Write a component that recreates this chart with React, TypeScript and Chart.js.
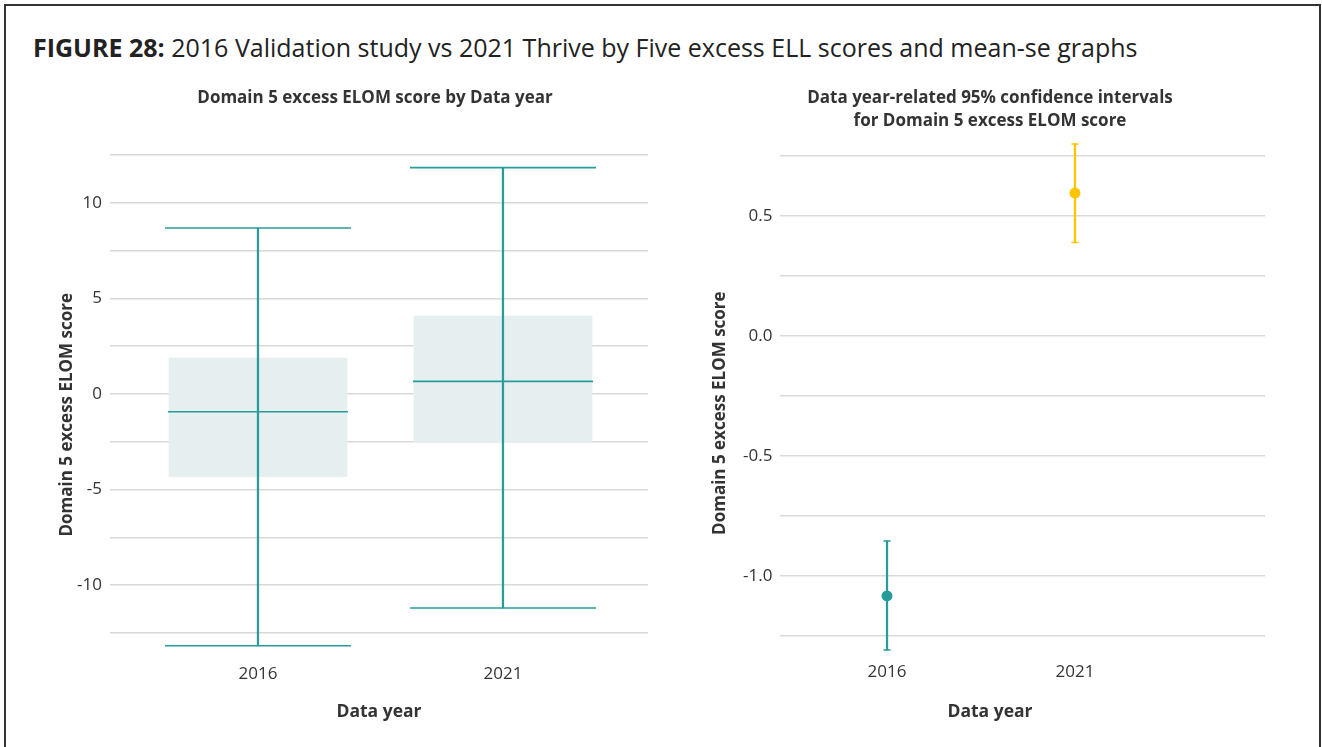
import React, { useEffect, useRef } from 'react';
import { Chart, registerables } from 'chart.js';

Chart.register(...registerables);

// ---------- data ----------
const years = ['2016', '2021'];

// box plot (left)
const boxWhiskerLow = [-13.18, -11.2];
const boxQ1 = [-4.33, -2.5];
const boxMedian = [-0.93, 0.66];
const boxQ3 = [1.88, 4.08];
const boxWhiskerHigh = [8.69, 11.85];
const boxYTicks = [-12.5, -10, -7.5, -5, -2.5, 0, 2.5, 5, 7.5, 10, 12.5];
const boxYTickLabels = ['', '-10', '', '-5', '', '0', '', '5', '', '10', ''];

// mean with 95% CI (right)
const ciMean = [-1.083, 0.595];
const ciLow = [-1.308, 0.389];
const ciHigh = [-0.854, 0.8];
const ciYTicks = [-1.25, -1, -0.75, -0.5, -0.25, 0, 0.25, 0.5, 0.75];
const ciYTickLabels = ['', '-1.0', '', '-0.5', '', '0.0', '', '0.5', ''];

// ---------- styles ----------
const FONT = "'Open Sans', 'Noto Sans', sans-serif";
const TEAL = '#279c9b';
const GOLD = '#fdc500';
const ciColors = [TEAL, GOLD];
const BOXFILL = '#e5eff0';
const GRID = '#d9d9d9';
const TXT = '#333333';

const sideTitle = {
  id: 'sideTitle',
  afterDraw(chart: any, _args: any, opts: any) {
    if (!opts || !opts.text) return;
    const ctx = chart.ctx;
    const ca = chart.chartArea;
    ctx.save();
    ctx.font = `bold ${opts.size}px ${FONT}`;
    ctx.fillStyle = TXT;
    ctx.textAlign = 'center';
    ctx.textBaseline = 'middle';
    ctx.translate(opts.x, (ca.top + ca.bottom) / 2 + opts.shift);
    ctx.rotate(-Math.PI / 2);
    ctx.fillText(opts.text, 0, 0);
    ctx.restore();
  },
};

// empty right-hand axis used only as a spacer so titles stay centred on the canvas
const spacerAxis = (w: number) => ({
  type: 'linear',
  position: 'right',
  display: true,
  grid: { display: false, drawTicks: false },
  border: { display: false },
  ticks: { display: false },
  afterFit: (s: any) => {
    s.width = w;
  },
});

function BoxChart() {
  const ref = useRef<HTMLCanvasElement>(null);
  useEffect(() => {
    const chart = new Chart(ref.current as HTMLCanvasElement, {
      type: 'bar',
      data: {
        datasets: [
          {
            type: 'scatter',
            data: years.map((_, i) => ({ x: i, y: boxMedian[i] })),
            pointStyle: 'line',
            pointRadius: 90,
            pointHoverRadius: 90,
            pointBorderColor: TEAL,
            pointBackgroundColor: TEAL,
            pointBorderWidth: 1.6,
            order: 1,
          } as any,
          {
            type: 'scatter',
            data: years.flatMap((_, i) => [
              { x: i, y: boxWhiskerLow[i] },
              { x: i, y: boxWhiskerHigh[i] },
            ]),
            pointStyle: 'line',
            pointRadius: 93,
            pointHoverRadius: 93,
            pointBorderColor: TEAL,
            pointBackgroundColor: TEAL,
            pointBorderWidth: 1.6,
            order: 1,
          } as any,
          {
            type: 'bar',
            data: years.map((_, i) => ({ x: i, y: [boxWhiskerLow[i], boxWhiskerHigh[i]] })),
            backgroundColor: TEAL,
            barThickness: 1.6,
            maxBarThickness: 1.6,
            grouped: false,
            order: 2,
          } as any,
          {
            type: 'bar',
            data: years.map((_, i) => ({ x: i, y: [boxQ1[i], boxQ3[i]] })),
            backgroundColor: BOXFILL,
            barThickness: 178,
            maxBarThickness: 178,
            grouped: false,
            order: 3,
          } as any,
        ],
      },
      options: {
        animation: false,
        responsive: false,
        events: [],
        layout: { padding: 0, autoPadding: false },
        plugins: {
          legend: { display: false },
          tooltip: { enabled: false },
          title: {
            display: true,
            text: 'Domain 5 excess ELOM score by Data year',
            color: TXT,
            font: { family: FONT, size: 17, weight: 'bold', lineHeight: 1.35 },
            padding: { top: 6.5, bottom: 40 },
          },
          sideTitle: { text: 'Domain 5 excess ELOM score', x: 17, size: 17, shift: 15 },
        } as any,
        scales: {
          x: {
            type: 'linear',
            min: -0.604,
            max: 1.592,
            offset: false,
            grid: { display: false, drawTicks: false },
            border: { display: false },
            afterBuildTicks: (s: any) => {
              s.ticks = years.map((_, i) => ({ value: i }));
            },
            afterFit: (s: any) => {
              s.height = 90;
            },
            ticks: {
              autoSkip: false,
              maxRotation: 0,
              padding: 13.8,
              color: TXT,
              font: { family: FONT, size: 17 },
              callback: (v: any) => years[v as number] ?? '',
            },
            title: {
              display: true,
              text: 'Data year',
              color: TXT,
              font: { family: FONT, size: 17.5, weight: 'bold' },
              padding: { top: 0, bottom: 17.5 },
            },
          },
          y: {
            type: 'linear',
            min: -13.4,
            max: 12.8,
            grid: { color: GRID, lineWidth: 1.5, drawTicks: false },
            border: { display: false },
            afterBuildTicks: (s: any) => {
              s.ticks = boxYTicks.map((v) => ({ value: v }));
            },
            afterFit: (s: any) => {
              s.width = 60;
            },
            ticks: {
              padding: 8,
              color: TXT,
              font: { family: FONT, size: 17 },
              callback: (_v: any, i: number) => boxYTickLabels[i],
            },
          },
          spacer: spacerAxis(52),
        },
      } as any,
      plugins: [sideTitle as any],
    });
    return () => chart.destroy();
  }, []);
  return <canvas ref={ref} width={650} height={660} />;
}

function CIChart() {
  const ref = useRef<HTMLCanvasElement>(null);
  useEffect(() => {
    const chart = new Chart(ref.current as HTMLCanvasElement, {
      type: 'bar',
      data: {
        datasets: [
          {
            type: 'scatter',
            data: years.map((_, i) => ({ x: i, y: ciMean[i] })),
            pointStyle: 'circle',
            pointRadius: 5.5,
            pointHoverRadius: 5.5,
            pointBackgroundColor: ciColors,
            pointBorderColor: ciColors,
            pointBorderWidth: 0,
            order: 1,
          } as any,
          {
            type: 'scatter',
            data: years.flatMap((_, i) => [
              { x: i, y: ciLow[i] },
              { x: i, y: ciHigh[i] },
            ]),
            pointStyle: 'line',
            pointRadius: 3.5,
            pointHoverRadius: 3.5,
            pointBorderColor: ciColors.flatMap((c) => [c, c]),
            pointBackgroundColor: ciColors.flatMap((c) => [c, c]),
            pointBorderWidth: 1.5,
            order: 2,
          } as any,
          {
            type: 'bar',
            data: years.map((_, i) => ({ x: i, y: [ciLow[i], ciHigh[i]] })),
            backgroundColor: ciColors,
            barThickness: 1.6,
            maxBarThickness: 1.6,
            grouped: false,
            order: 3,
          } as any,
        ],
      },
      options: {
        animation: false,
        responsive: false,
        events: [],
        layout: { padding: 0, autoPadding: false },
        plugins: {
          legend: { display: false },
          tooltip: { enabled: false },
          title: {
            display: true,
            text: ['Data year-related 95% confidence intervals', 'for Domain 5 excess ELOM score'],
            color: TXT,
            font: { family: FONT, size: 17, weight: 'bold', lineHeight: 1.35 },
            padding: { top: 6.5, bottom: 6.7 },
          },
          subtitle: {
            display: true,
            position: 'bottom',
            text: 'Data year',
            color: TXT,
            font: { family: FONT, size: 17.5, weight: 'bold', lineHeight: 1.2 },
            padding: { top: 0, bottom: 17.5 },
          },
          sideTitle: { text: 'Domain 5 excess ELOM score', x: 20, size: 17, shift: 16 },
        } as any,
        scales: {
          x: {
            type: 'linear',
            min: -0.572,
            max: 2.011,
            offset: false,
            grid: { display: false, drawTicks: false },
            border: { display: false },
            afterBuildTicks: (s: any) => {
              s.ticks = years.map((_, i) => ({ value: i }));
            },
            afterFit: (s: any) => {
              s.height = 46.3;
            },
            ticks: {
              autoSkip: false,
              maxRotation: 0,
              padding: 6.6,
              color: TXT,
              font: { family: FONT, size: 17 },
              callback: (v: any) => years[v as number] ?? '',
            },
          },
          y: {
            type: 'linear',
            min: -1.33,
            max: 0.82,
            grid: { color: GRID, lineWidth: 1.5, drawTicks: false },
            border: { display: false },
            afterBuildTicks: (s: any) => {
              s.ticks = ciYTicks.map((v) => ({ value: v }));
            },
            afterFit: (s: any) => {
              s.width = 79.5;
            },
            ticks: {
              padding: 7,
              color: TXT,
              font: { family: FONT, size: 17 },
              callback: (_v: any, i: number) => ciYTickLabels[i],
            },
          },
          spacer: spacerAxis(15),
        },
      } as any,
      plugins: [sideTitle as any],
    });
    return () => chart.destroy();
  }, []);
  return <canvas ref={ref} width={580} height={660} />;
}

export default function App() {
  return (
    <div
      style={{
        position: 'absolute',
        left: 0,
        top: 0,
        width: 1322,
        height: 747,
        overflow: 'hidden',
        background: '#fff',
        fontFamily: FONT,
      }}
    >
      <div
        style={{
          position: 'absolute',
          left: 4,
          top: 4,
          width: 1317,
          height: 800,
          boxSizing: 'border-box',
          border: '2px solid #333',
        }}
      />
      <div
        style={{
          position: 'absolute',
          left: 33,
          top: 31,
          lineHeight: '32px',
          fontSize: 25,
          color: '#222',
          whiteSpace: 'nowrap',
        }}
      >
        <b>FIGURE 28:</b> 2016 Validation study vs 2021 Thrive by Five excess ELL scores and mean-se graphs
      </div>
      <div style={{ position: 'absolute', left: 50, top: 80 }}>
        <BoxChart />
      </div>
      <div style={{ position: 'absolute', left: 700, top: 80 }}>
        <CIChart />
      </div>
    </div>
  );
}
